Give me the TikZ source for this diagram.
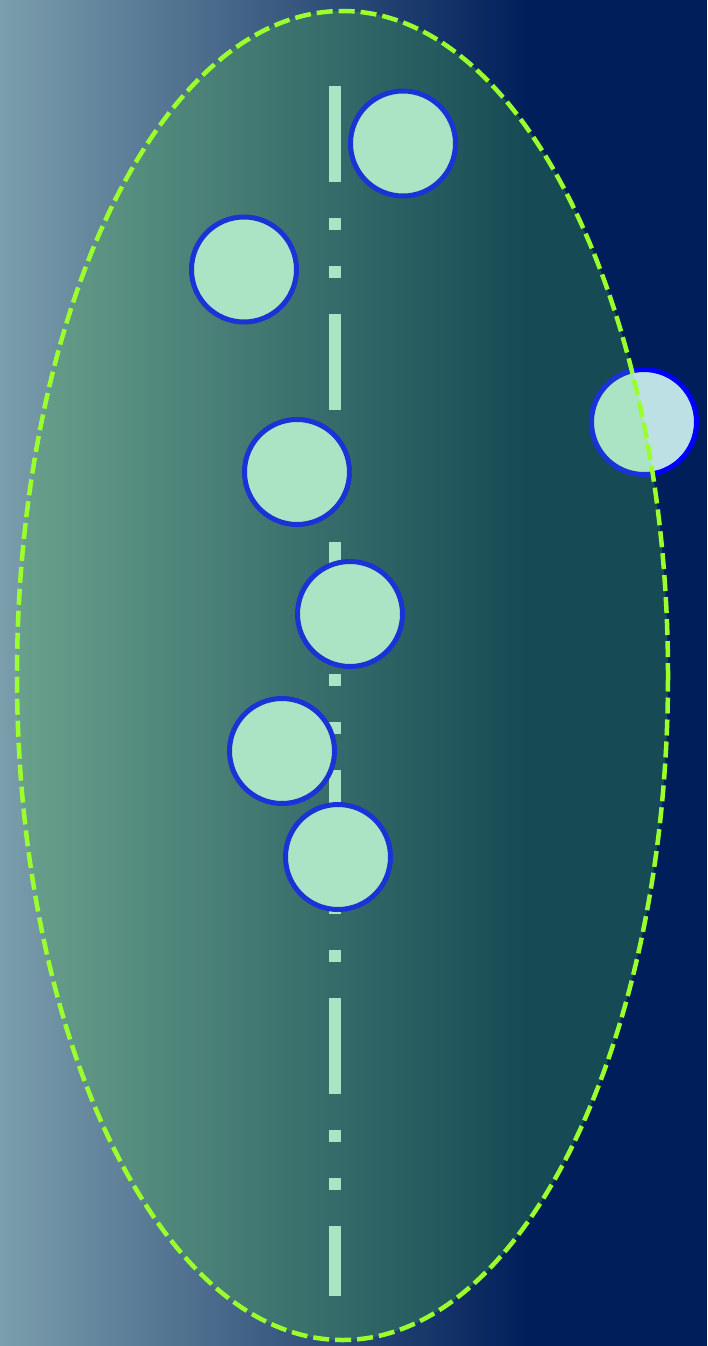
\documentclass[tikz,border=0pt]{standalone}
\usetikzlibrary{shapes.geometric}
\definecolor{bgL}{RGB}{123,158,172}
\definecolor{bgR}{RGB}{0,30,90}
\definecolor{elfill}{RGB}{73,177,73}
\definecolor{elline}{RGB}{155,255,45}
\definecolor{cfill}{RGB}{170,228,197}
\definecolor{cline}{RGB}{26,51,214}
\definecolor{cfillout}{RGB}{189,224,228}
\definecolor{clineout}{RGB}{0,0,255}
\tikzset{
  dot/.style={circle,minimum size=105pt,inner sep=0pt,line width=5pt,draw=cline,fill=cfill},
}
\begin{document}
\begin{tikzpicture}[x=1pt,y=-1pt]
\useasboundingbox (0,0) rectangle (707,1346);
% background
\fill[bgR] (0,0) rectangle (707,1346);
\shade[left color=bgL,right color=bgR] (0,0) rectangle (530,1346);
% right circle, partly under the ellipse
\node[dot,draw=clineout,fill=cfillout] (c7) at (644,422) {};
% ellipse fill
\fill[elfill,fill opacity=0.3] (342.5,675.5) ellipse [x radius=325.5, y radius=664.5];
\begin{scope}
  \clip (342.5,675.5) ellipse [x radius=325.5, y radius=664.5];
  \node[dot] at (644,422) {};
\end{scope}
% dash-dot axis
\coordinate (a1) at (335,86);
\coordinate (a2) at (335,1296);
\draw[cfill,line width=12pt,dash pattern=on 96pt off 36pt on 12pt off 36pt on 12pt off 36pt] (a1) -- (a2);
% circles
\node[dot] (c1) at (403,143.5) {};
\node[dot] (c2) at (244,269.5) {};
\node[dot] (c3) at (297,472) {};
\node[dot] (c4) at (350,614) {};
\node[dot] (c5) at (282,751) {};
\node[dot] (c6) at (338,857) {};
% ellipse outline
\draw[elline,line width=4.5pt,dash pattern=on 16pt off 6pt] (342.5,675.5) ellipse [x radius=325.5, y radius=664.5];
\end{tikzpicture}
\end{document}
